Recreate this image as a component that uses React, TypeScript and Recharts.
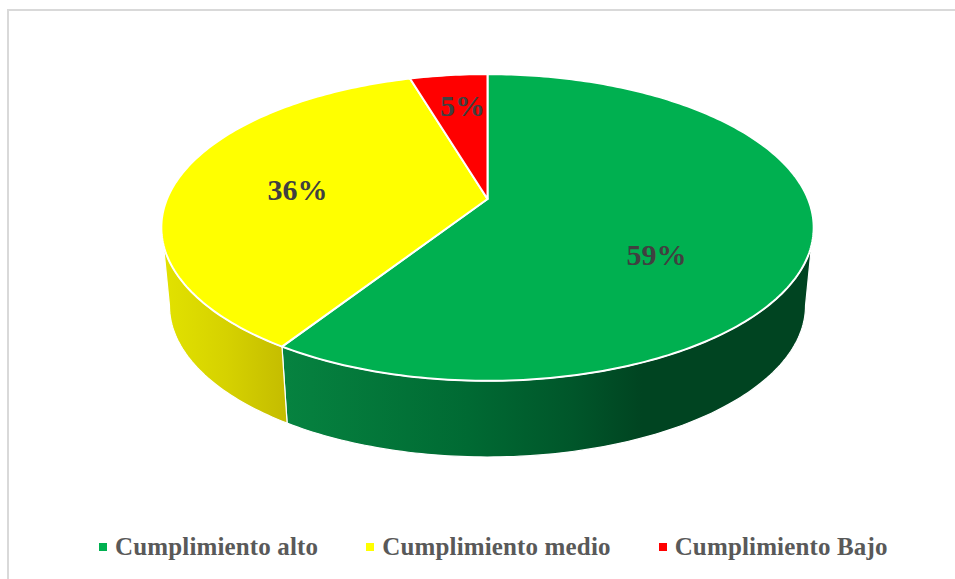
import { PieChart, Pie, Legend } from 'recharts';

const categories = ['Cumplimiento alto', 'Cumplimiento medio', 'Cumplimiento Bajo'];
const values = [59.1, 36.3, 4.6];
const colors = ['#00B050', '#FFFF00', '#FF0000'];

const table = categories.map((name, i) => ({ name, value: values[i], fill: colors[i] }));

// label nudges from the pie apex, Excel places them by its own rule
const labelOffsets = [
  [169, 55],
  [-190, -10],
  [-25, -94],
];

const wallStops: Record<string, [number, string][]> = {
  '#00B050': [
    [0, '#068340'],
    [0.35, '#006a33'],
    [0.55, '#00562a'],
    [0.68, '#004421'],
    [1, '#004421'],
  ],
  '#FFFF00': [
    [0, '#e2e200'],
    [0.5, '#d6d200'],
    [1, '#c4bc00'],
  ],
};

const LABEL_FONT = '"Liberation Serif", serif';

// perspective of the tilted disc: circle point -> screen offset from the apex
const TILT = 0.1857;
const SQUASH = 0.462;

function project(angle: number, r: number) {
  const rad = (angle * Math.PI) / 180;
  const u = Math.cos(rad);
  const v = -Math.sin(rad);
  const k = 1 - TILT * v;
  return { x: (r * u) / k, y: (r * SQUASH * v) / k };
}

function arcPoints(from: number, to: number, r: number) {
  const steps = Math.max(2, Math.ceil(Math.abs(to - from)));
  const pts = [];
  for (let i = 0; i <= steps; i++) {
    pts.push(project(from + ((to - from) * i) / steps, r));
  }
  return pts;
}

const TopSlice = (props: any) => {
  const { cx, cy, outerRadius, startAngle, endAngle, fill } = props;
  const pts = arcPoints(startAngle, endAngle, outerRadius);
  const d =
    `M${cx},${cy} ` + pts.map((p) => `L${cx + p.x},${cy + p.y}`).join(' ') + ' Z';
  return <path d={d} fill={fill} stroke="#fff" strokeWidth={2} strokeLinejoin="round" />;
};

const WallSlice = (props: any) => {
  const { cx, cy, outerRadius, startAngle, endAngle, fill } = props;
  const hi = Math.max(startAngle, endAngle);
  const lo = Math.min(startAngle, endAngle);
  // only the front of the rim shows
  const topHi = Math.min(hi, -17);
  const topLo = Math.max(lo, -163);
  const botHi = Math.min(hi, -10.7);
  const botLo = Math.max(lo, -169.3);
  if (topHi <= topLo) return null;
  const top = arcPoints(topHi, topLo, outerRadius);
  const bottom = arcPoints(botLo, botHi, outerRadius).map((p) => ({
    x: p.x * 0.975,
    y: p.y * 0.987 + outerRadius * 0.245,
  }));
  const d =
    [...top, ...bottom]
      .map((p, i) => `${i === 0 ? 'M' : 'L'}${cx + p.x},${cy + p.y}`)
      .join(' ') + ' Z';
  const id = `wall-${fill.slice(1)}`;
  return (
    <g>
      <defs>
        <linearGradient id={id} x1="0" y1="0" x2="1" y2="0">
          {(wallStops[fill] || []).map(([o, c]) => (
            <stop key={o} offset={o} stopColor={c} />
          ))}
        </linearGradient>
      </defs>
      <path d={d} fill={`url(#${id})`} stroke="#fff" strokeWidth={1.2} />
    </g>
  );
};

const renderLabel = ({ cx, cy, index }: any) => (
  <text
    x={cx + labelOffsets[index][0]}
    y={cy + labelOffsets[index][1]}
    textAnchor="middle"
    dominantBaseline="central"
    fill="#404040"
    fontFamily={LABEL_FONT}
    fontWeight={700}
    fontSize={30}
  >
    {Math.round(values[index])}%
  </text>
);

// both Pie layers feed the legend, keep one entry per category
const renderLegend = ({ payload }: any) => {
  const items = categories
    .map((name) => (payload || []).find((p: any) => p.value === name))
    .filter(Boolean);
  return (
    <div style={{ display: 'flex', alignItems: 'center', gap: 48, paddingLeft: 99 }}>
      {items.map((p: any) => (
        <div key={p.value} style={{ display: 'flex', alignItems: 'center', gap: 8, whiteSpace: 'nowrap' }}>
          <span style={{ width: 8, height: 8, background: p.color, display: 'inline-block' }} />
          <span
            style={{
              fontFamily: LABEL_FONT,
              fontWeight: 700,
              fontSize: 25,
              letterSpacing: 0.15,
              color: '#595959',
              lineHeight: '30px',
            }}
          >
            {p.value}
          </span>
        </div>
      ))}
    </div>
  );
};

export default function App() {
  return (
    <div
      style={{
        position: 'absolute',
        left: 0,
        top: 0,
        width: 955,
        height: 579,
        overflow: 'hidden',
        background: '#fff',
      }}
    >
      <div
        style={{
          position: 'absolute',
          left: 7,
          top: 9,
          width: 948,
          height: 570,
          boxSizing: 'border-box',
          borderTop: '2px solid #d9d9d9',
          borderLeft: '2px solid #d9d9d9',
        }}
      />
      <PieChart width={955} height={579} margin={{ top: 0, right: 0, bottom: 0, left: 0 }}>
        <Pie
          data={table}
          dataKey="value"
          nameKey="name"
          cx={487.5}
          cy={199}
          outerRadius={320.5}
          startAngle={90}
          endAngle={-270}
          legendType="none"
          shape={WallSlice}
          label={false}
          isAnimationActive={false}
        />
        <Pie
          data={table}
          dataKey="value"
          nameKey="name"
          cx={487.5}
          cy={199}
          outerRadius={320.5}
          startAngle={90}
          endAngle={-270}
          shape={TopSlice}
          label={renderLabel}
          labelLine={false}
          isAnimationActive={false}
        />
        <Legend
          content={renderLegend}
          verticalAlign="bottom"
          wrapperStyle={{ left: 0, width: 955, bottom: 17 }}
        />
      </PieChart>
    </div>
  );
}
